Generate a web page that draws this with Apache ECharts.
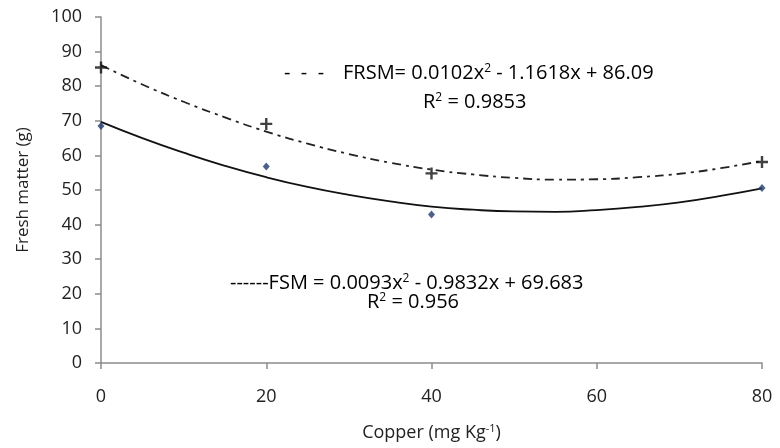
<!DOCTYPE html>
<html>
<head>
<meta charset="utf-8">
<script src="https://cdn.jsdelivr.net/npm/echarts@6/dist/echarts.min.js"></script>
<style>
  html, body { margin: 0; padding: 0; background: #fff; }
  #chart { width: 780px; height: 448px; }
</style>
</head>
<body>
<div id="chart"></div>
<script>
// observed points (copper dose, fresh matter)
const doses = [0, 20, 40, 80];
const frsmPoints = [85.4, 69.1, 54.8, 58.1];
const fsmPoints = [68.5, 56.8, 42.9, 50.6];

// fitted trend lines, every 5 mg/kg
const curveX = [0, 5, 10, 15, 20, 25, 30, 35, 40, 45, 50, 55, 60, 65, 70, 75, 80];
const frsmCurve = [86.1, 80.5, 75.5, 71.0, 66.9, 63.4, 60.4, 57.9, 55.9, 54.5, 53.5, 53.0, 53.1, 53.7, 54.7, 56.3, 58.4];
const fsmCurve = [69.7, 65.0, 60.8, 57.0, 53.7, 50.9, 48.6, 46.7, 45.2, 44.3, 43.8, 43.7, 44.2, 45.1, 46.4, 48.3, 50.5];

const xTicks = [0, 20, 40, 60, 80];
const yTicks = [0, 10, 20, 30, 40, 50, 60, 70, 80, 90, 100];

const font = '"Open Sans", sans-serif';
const textColor = '#222';

function pairs(xs, ys) {
  return xs.map((x, i) => [x, ys[i]]);
}

const plusPath = 'path://M4,0 L6,0 L6,4 L10,4 L10,6 L6,6 L6,10 L4,10 L4,6 L0,6 L0,4 L4,4 Z';

const eqRich = {
  t: { fontFamily: font, fontSize: 20, color: textColor },
  s: { fontFamily: font, fontSize: 12, color: textColor, verticalAlign: 'top', padding: [0, 0, 9, 0] }
};
const nameRich = {
  t: { fontFamily: font, fontSize: 18, color: textColor },
  s: { fontFamily: font, fontSize: 11, color: textColor, verticalAlign: 'top', padding: [0, 0, 9, 0] }
};

const chart = echarts.init(document.getElementById('chart'));

chart.setOption({
  animation: false,
  grid: { left: 101, right: 18, top: 17, bottom: 85 },
  xAxis: {
    type: 'value',
    min: 0,
    max: 80,
    interval: 20,
    name: '{t|Copper (mg Kg}{s|-1}{t|)}',
    nameLocation: 'middle',
    nameGap: 60,
    nameTextStyle: { rich: nameRich },
    axisLine: { lineStyle: { color: '#8c8c8c', width: 1.5 } },
    axisTick: { show: true, length: 6, lineStyle: { color: '#8c8c8c', width: 1.5 } },
    axisLabel: {
      margin: 25,
      fontFamily: font,
      fontSize: 18,
      color: textColor,
      formatter: v => xTicks.includes(v) ? String(v) : ''
    },
    splitLine: { show: false }
  },
  yAxis: {
    type: 'value',
    min: 0,
    max: 100,
    interval: 10,
    name: 'Fresh matter (g)',
    nameLocation: 'middle',
    nameRotate: 90,
    nameGap: 69,
    nameTextStyle: { fontFamily: font, fontSize: 17, color: textColor },
    axisLine: { show: true, lineStyle: { color: '#8c8c8c', width: 1.5 } },
    axisTick: { show: true, length: 6, lineStyle: { color: '#8c8c8c', width: 1.5 } },
    axisLabel: {
      margin: 19,
      fontFamily: font,
      fontSize: 18,
      color: textColor,
      formatter: v => yTicks.includes(v) ? String(v) : ''
    },
    splitLine: { show: false }
  },
  series: [
    {
      name: 'FRSM trend',
      type: 'line',
      data: pairs(curveX, frsmCurve),
      smooth: true,
      showSymbol: false,
      lineStyle: { color: '#222', width: 1.8, type: [9, 5, 3, 5] },
      z: 2
    },
    {
      name: 'FSM trend',
      type: 'line',
      data: pairs(curveX, fsmCurve),
      smooth: true,
      showSymbol: false,
      lineStyle: { color: '#111', width: 1.8 },
      z: 2
    },
    {
      name: 'FRSM',
      type: 'scatter',
      data: pairs(doses, frsmPoints),
      symbol: plusPath,
      symbolSize: 12,
      itemStyle: { color: '#111' },
      z: 3
    },
    {
      name: 'FSM',
      type: 'scatter',
      data: pairs(doses, fsmPoints),
      symbol: 'diamond',
      symbolSize: [7, 8],
      itemStyle: { color: '#1f3b6b' },
      z: 3
    }
  ],
  graphic: [
    {
      type: 'text',
      x: 284,
      y: 73,
      style: {
        text: '{t|-  -  -}',
        rich: eqRich,
        verticalAlign: 'middle'
      }
    },
    {
      type: 'text',
      x: 343,
      y: 73,
      style: {
        text: '{t|FRSM= 0.0102x}{s|2}{t| - 1.1618x + 86.09}',
        rich: eqRich,
        verticalAlign: 'middle'
      }
    },
    {
      type: 'text',
      x: 423,
      y: 102,
      style: {
        text: '{t|R}{s|2}{t| = 0.9853}',
        rich: eqRich,
        verticalAlign: 'middle'
      }
    },
    {
      type: 'text',
      x: 230,
      y: 283,
      style: {
        text: '{t|------FSM = 0.0093x}{s|2}{t| - 0.9832x + 69.683}',
        rich: eqRich,
        verticalAlign: 'middle'
      }
    },
    {
      type: 'text',
      x: 367,
      y: 302,
      style: {
        text: '{t|R}{s|2}{t| = 0.956}',
        rich: eqRich,
        verticalAlign: 'middle'
      }
    }
  ]
});
</script>
</body>
</html>
